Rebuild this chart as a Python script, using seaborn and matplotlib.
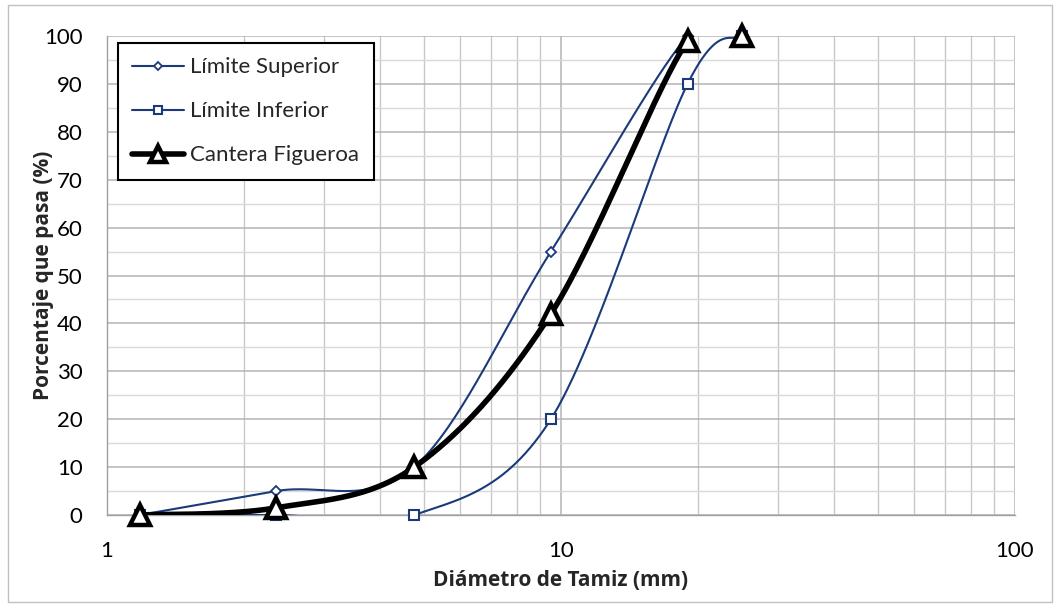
import numpy as np
import pandas as pd
import matplotlib
matplotlib.use("Agg")
import matplotlib.pyplot as plt
import seaborn as sns
from matplotlib.lines import Line2D
from matplotlib.patches import Rectangle
from matplotlib.ticker import LogLocator, FixedLocator, NullFormatter

# ---- data ----
sup_x = [1.18, 2.36, 4.75, 9.5, 19.0, 25.0]
sup_y = [0, 5, 10, 55, 100, 100]
inf_x = [1.18, 2.36, 4.75, 9.5, 19.0, 25.0]
inf_y = [0, 0, 0, 20, 90, 100]
cant_x = [1.18, 2.36, 4.75, 9.5, 19.0, 25.0]
cant_y = [0, 1.5, 10, 42, 99, 100]
x_ticks = [1, 10, 100]
y_ticks = list(range(0, 101, 10))

sns.set_theme(style="white")
plt.rcParams['font.family'] = ['Lato', 'DejaVu Sans']


def smooth(xs, ys, n=60):
    """Excel-like smoothed line (Catmull-Rom Bezier in log-x space)."""
    px = np.log10(np.asarray(xs, float))
    py = np.asarray(ys, float)
    P = np.column_stack([px, py])
    P = np.vstack([P[0], P, P[-1]])
    out = []
    for i in range(1, len(P) - 2):
        p0, p1, p2, p3 = P[i - 1], P[i], P[i + 1], P[i + 2]
        c1 = p1 + (p2 - p0) / 6.0
        c2 = p2 - (p3 - p1) / 6.0
        t = np.linspace(0, 1, n)[:, None]
        seg = ((1 - t) ** 3) * p1 + 3 * ((1 - t) ** 2) * t * c1 + 3 * (1 - t) * t ** 2 * c2 + t ** 3 * p2
        out.append(seg if i == 1 else seg[1:])
    out = np.vstack(out)
    return 10 ** out[:, 0], out[:, 1]


navy = '#1b3a7a'
fig = plt.figure(figsize=(10.6, 6.06), dpi=100)
ax = fig.add_axes([107 / 1060, 91 / 606, 908 / 1060, 479 / 606])
ax.set_xscale('log')

series = [
    ('Límite Superior', sup_x, sup_y, dict(color=navy, lw=1.5), dict(marker='D', ms=5, mfc='white', mec=navy, mew=1.3)),
    ('Límite Inferior', inf_x, inf_y, dict(color=navy, lw=1.5), dict(marker='s', ms=7, mfc='white', mec=navy, mew=1.5)),
    ('Cantera Figueroa', cant_x, cant_y, dict(color='black', lw=4.0), dict(marker='^', ms=15, mfc='white', mec='black', mew=3.2)),
]

handles = []
for z, (name, xs, ys, lstyle, mstyle) in enumerate(series):
    sx, sy = smooth(xs, ys)
    df = pd.DataFrame({'x': sx, 'y': sy})
    sns.lineplot(data=df, x='x', y='y', ax=ax, sort=False, estimator=None,
                 color=lstyle['color'], linewidth=lstyle['lw'], zorder=3 + 2 * z)
    ax.plot(xs, ys, linestyle='none', zorder=4 + 2 * z, clip_on=False, **mstyle)
    handles.append(Line2D([], [], color=lstyle['color'], linewidth=lstyle['lw'],
                          **{k: (v * 0.8 if k == 'ms' else v) for k, v in mstyle.items()}))

ax.set_xlim(1, 100)
ax.set_ylim(0, 100)
ax.xaxis.set_major_locator(FixedLocator(x_ticks))
ax.set_xticklabels([str(t) for t in x_ticks])
ax.xaxis.set_minor_locator(LogLocator(base=10, subs=np.arange(2, 10)))
ax.xaxis.set_minor_formatter(NullFormatter())
ax.set_yticks(y_ticks)
ax.yaxis.set_minor_locator(FixedLocator(list(range(5, 100, 10))))

ax.grid(which='major', axis='both', color='#b4b4b4', linewidth=1.1, zorder=0)
ax.grid(which='minor', axis='x', color='#c8c8c8', linewidth=1.0, zorder=0)
ax.grid(which='minor', axis='y', color='#d9d9d9', linewidth=1.0, zorder=0)
ax.set_axisbelow(True)

for s in ['top', 'right']:
    ax.spines[s].set_visible(False)
for s in ['left', 'bottom']:
    ax.spines[s].set_color('#a0a0a0')
    ax.spines[s].set_linewidth(1.0)

ax.tick_params(axis='both', which='major', direction='out', length=6.5, width=1,
               color='#a0a0a0', labelsize=16, labelcolor='black', pad=11)
ax.tick_params(axis='both', which='minor', length=0)
ax.tick_params(axis='x', which='major', pad=12)

label_font = dict(family=['Open Sans', 'DejaVu Sans'], size=15, weight='bold')
ax.set_xlabel('Diámetro de Tamiz (mm)', fontdict=label_font, labelpad=7)
ax.set_ylabel('Porcentaje que pasa (%)', fontdict=label_font, labelpad=-7)

leg = ax.legend(handles, [s[0] for s in series], loc='upper left',
                bbox_to_anchor=(11 / 908, 1 - 7 / 479), fontsize=16, frameon=True,
                fancybox=False, edgecolor='black', framealpha=1, borderpad=0.65,
                labelspacing=1.08, handlelength=2.3, handletextpad=0.3, borderaxespad=0)
leg.get_frame().set_linewidth(1.5)
leg.set_zorder(20)

fig.patches.append(Rectangle((8 / 1060, 4 / 606), 1044 / 1060, 597 / 606, transform=fig.transFigure,
                             fill=False, edgecolor='#c0c0c0', linewidth=1.0))

fig.savefig('out.png', dpi=100)
